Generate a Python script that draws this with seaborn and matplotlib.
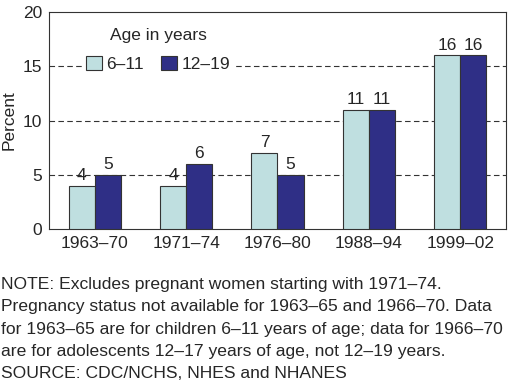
"""
Overweight children and adolescents, by age group and survey period
"""

import pandas as pd
import matplotlib.pyplot as plt
import seaborn as sns

# DATA

periods = ["1963\u201370", "1971\u201374", "1976\u201380", "1988\u201394", "1999\u201302"]
age_groups = ["6\u201311", "12\u201319"]
pct_6_11 = [4, 4, 7, 11, 16]
pct_12_19 = [5, 6, 5, 11, 16]

df = pd.DataFrame({
    "Period": periods * 2,
    "Age": [age_groups[0]] * len(periods) + [age_groups[1]] * len(periods),
    "Percent": pct_6_11 + pct_12_19,
})

note = ("NOTE: Excludes pregnant women starting with 1971\u201374.\n"
        "Pregnancy status not available for 1963\u201365 and 1966\u201370. Data\n"
        "for 1963\u201365 are for children 6\u201311 years of age; data for 1966\u201370\n"
        "are for adolescents 12\u201317 years of age, not 12\u201319 years.\n"
        "SOURCE: CDC/NCHS, NHES and NHANES")

# PLOT

sns.set_style("white")
plt.rcParams["font.family"] = ["Liberation Sans", "DejaVu Sans"]

fig = plt.figure(figsize=(5.11, 3.82), dpi=100)
ax = fig.add_axes([0.096, 0.400, 0.894, 0.569])

palette = {age_groups[0]: "#bfdfe0", age_groups[1]: "#2f2f86"}
sns.barplot(data=df, x="Period", y="Percent", hue="Age", order=periods,
            hue_order=age_groups, palette=palette, width=0.57,
            edgecolor="#333333", linewidth=0.8, saturation=1, ax=ax, zorder=3)

for cont in ax.containers:
    ax.bar_label(cont, fmt="%d", padding=2, fontsize=12.5)

for y in [5, 10, 15]:
    ax.axhline(y, color="#333333", ls=(0, (5, 3)), lw=0.8, zorder=1)

ax.set_ylim(0, 20)
ax.set_xlim(-0.5, 4.5)
ax.set_yticks([0, 5, 10, 15, 20])
ax.set_xlabel("")
ax.set_ylabel("Percent", fontsize=12.5, labelpad=4)
ax.tick_params(axis="both", labelsize=12.5, length=0, pad=5)
for s in ax.spines.values():
    s.set_color("#333333")
    s.set_linewidth(0.8)

leg = ax.legend(title="Age in years", loc="center", bbox_to_anchor=(0.239, 0.825),
                ncol=2, frameon=True, fontsize=12.5, title_fontsize=12.5,
                handlelength=0.9, handleheight=0.9, handletextpad=0.25,
                columnspacing=1.0, borderpad=0.15, labelspacing=0.75,
                facecolor="white", edgecolor="white", framealpha=1)
leg.set_zorder(5)

# note block anchored at its last baseline so the spacing matches the original
fig.text(0.002, 1 - 378 / 382, note, fontsize=12.6, va="baseline", ha="left",
         linespacing=1.6)

plt.savefig("out.png", dpi=100)
